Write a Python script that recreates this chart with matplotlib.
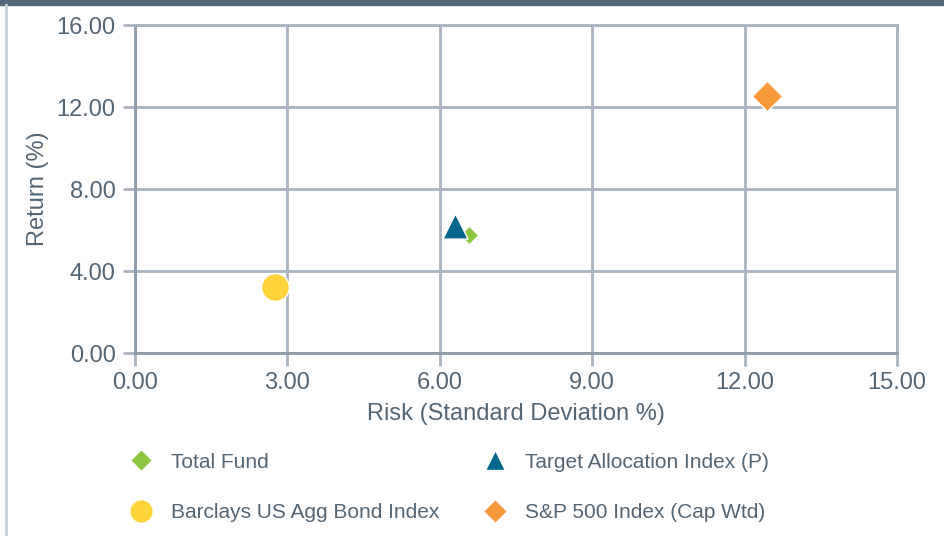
import matplotlib.pyplot as plt
from matplotlib.lines import Line2D
from matplotlib.patches import Rectangle

plt.rcParams['font.family'] = ['Liberation Sans', 'DejaVu Sans']

# risk / return data
names = ['Total Fund', 'Target Allocation Index (P)', 'Barclays US Agg Bond Index', 'S&P 500 Index (Cap Wtd)']
risk = [6.58, 6.30, 2.76, 12.45]
ret = [5.78, 6.18, 3.22, 12.55]
colors = ['#8dc63f', '#00668e', '#ffd43b', '#f7993a']
markers = ['D', '^', 'o', 'D']
sizes = [90, 330, 400, 240]
leg_sizes = [11, 14, 17, 12]

xticks = [0, 3, 6, 9, 12, 15]
yticks = [0, 4, 8, 12, 16]

txt = '#546574'
grid = '#aab4c0'

fig = plt.figure(figsize=(9.45, 5.36), dpi=100)
ax = fig.add_axes([135/945, 1 - 353/536, (897-135)/945, (353-25)/536])

for i in range(len(names)):
    ax.scatter(risk[i], ret[i], s=sizes[i], marker=markers[i], color=colors[i],
               edgecolors='white', linewidths=1, zorder=3)

ax.set_xlim(0, 15)
ax.set_ylim(0, 16)
ax.set_xticks(xticks)
ax.set_yticks(yticks)
ax.set_xticklabels(['%.2f' % v for v in xticks])
ax.set_yticklabels(['%.2f' % v for v in yticks])
ax.grid(True, color=grid, linewidth=2)
ax.set_axisbelow(True)
for s in ['top', 'right']:
    ax.spines[s].set_color(grid)
    ax.spines[s].set_linewidth(2)
for s in ['left', 'bottom']:
    ax.spines[s].set_color('#8c9cab')
    ax.spines[s].set_linewidth(2)
ax.tick_params(colors=grid, labelcolor=txt, labelsize=17, length=9, width=2, pad=5)
ax.set_xlabel('Risk (Standard Deviation %)', color=txt, fontsize=17, labelpad=6)
ax.set_ylabel('Return (%)', color=txt, fontsize=17, labelpad=5)

# legend, filled column-wise
handles = [Line2D([], [], ls='none', marker=markers[i], color=colors[i],
                  markersize=leg_sizes[i], markeredgecolor='white') for i in range(4)]
order = [0, 2, 1, 3]
fig.legend([handles[i] for i in order], [names[i] for i in order], ncol=2,
           loc='upper left', bbox_to_anchor=(112/945, 1 - 434/536), frameon=False,
           fontsize=15, labelcolor=txt, columnspacing=2.15, handletextpad=0.94,
           labelspacing=1.5, handlelength=1.0)

# top bar and left border
fig.patches.append(Rectangle((0, 1 - 5/536), 1, 5/536, transform=fig.transFigure,
                             color='#546a7b', zorder=0))
fig.add_artist(Line2D([6/945, 6/945], [0, 1 - 5/536], transform=fig.transFigure,
                      color='#c8d0d8', linewidth=2))

fig.savefig('out.png', dpi=100)
